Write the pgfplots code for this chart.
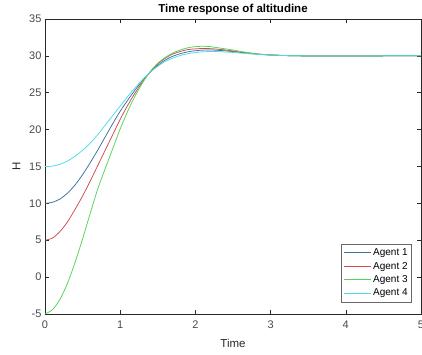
\documentclass[border=0pt]{standalone}
\usepackage{pgfplots}
\pgfplotsset{compat=1.18}
\usepackage{fontspec}
\setmainfont{Liberation Sans}
\definecolor{cA}{RGB}{60,110,160}
\definecolor{cB}{RGB}{205,75,75}
\definecolor{cC}{RGB}{85,210,85}
\definecolor{cD}{RGB}{75,220,230}
\definecolor{axgray}{RGB}{40,40,40}
\pgfplotstableread{
t A1 A2 A3 A4
0.0 10.0 5.0 -5.0 15.0
0.1 10.15 5.3 -4.4 15.05
0.2 10.6 6.2 -3.0 15.3
0.3 11.4 7.5 -0.8 15.75
0.4 12.5 9.2 2.0 16.4
0.5 13.9 11.0 5.2 17.2
0.6 15.5 13.0 8.6 18.15
0.7 17.2 15.1 11.9 19.3
0.8 19.0 17.2 14.7 20.6
0.9 20.8 19.3 17.4 21.9
1.0 22.5 21.4 20.1 23.2
1.1 24.0 23.3 22.5 24.5
1.2 25.4 25.0 24.6 25.7
1.3 26.7 26.5 26.4 26.8
1.4 27.8 27.8 27.9 27.8
1.5 28.7 28.9 29.0 28.6
1.6 29.45 29.7 29.8 29.25
1.7 29.95 30.25 30.4 29.7
1.8 30.3 30.6 30.8 30.05
1.9 30.55 30.85 31.1 30.3
2.0 30.7 30.95 31.25 30.45
2.1 30.78 31.0 31.3 30.55
2.2 30.8 30.98 31.25 30.6
2.3 30.75 30.9 31.1 30.58
2.4 30.68 30.8 30.95 30.53
2.5 30.58 30.65 30.8 30.46
2.6 30.47 30.5 30.6 30.38
2.7 30.37 30.38 30.45 30.3
2.8 30.27 30.27 30.3 30.22
2.9 30.19 30.18 30.2 30.16
3.0 30.12 30.12 30.15 30.1
3.2 30.04 30.04 30.05 30.04
3.4 30.0 30.0 30.0 30.0
3.6 29.98 29.98 29.97 29.98
3.8 29.98 29.98 29.97 29.98
4.0 29.98 29.98 29.98 29.99
4.5 30.0 30.0 30.0 30.0
5.0 30.0 30.0 30.0 30.0
}\data
\begin{document}
\begin{tikzpicture}
\begin{axis}[
  name=ax,
  scale only axis,
  width=376pt, height=295pt,
  xmin=0, xmax=5, ymin=-5, ymax=35,
  xtick={0,1,2,3,4,5}, ytick={-5,0,5,10,15,20,25,30,35},
  tick align=inside,
  major tick length=4pt,
  axis line style={axgray, line width=0.6pt},
  tick style={axgray, line width=0.6pt},
  ticklabel style={font=\fontsize{11}{13}\selectfont, text=axgray!85},
  xticklabel style={yshift=-3pt},
  /pgf/number format/assume math mode=true,
  title={\textbf{Time response of altitudine}},
  title style={font=\fontsize{11.5}{13}\selectfont, yshift=-5pt},
  xlabel={Time}, ylabel={H},
  label style={font=\fontsize{11.5}{13}\selectfont, text=axgray},
  xlabel style={yshift=-4pt},
  ylabel style={yshift=2pt},
  legend style={at={(rel axis cs:0.976,0.04)}, anchor=south east,
    font=\fontsize{10}{12}\selectfont, draw=axgray!70, line width=0.6pt,
    row sep=1pt, inner xsep=2pt, inner ysep=2.5pt},
  legend cell align=left,
  every axis plot/.append style={line width=0.75pt},
  legend image code/.code={\draw[#1, line width=0.8pt] (0cm,0cm) -- (0.95cm,0cm);},
]
\addplot[cA, smooth] table[x=t, y=A1] {\data};
\addlegendentry{Agent 1}
\addplot[cB, smooth] table[x=t, y=A2] {\data};
\addlegendentry{Agent 2}
\addplot[cC, smooth] table[x=t, y=A3] {\data};
\addlegendentry{Agent 3}
\addplot[cD, smooth] table[x=t, y=A4] {\data};
\addlegendentry{Agent 4}
\end{axis}
\pgfresetboundingbox
\path[use as bounding box] ([xshift=-45pt,yshift=-41pt]ax.south west) rectangle ([xshift=1pt,yshift=19pt]ax.north east);
\end{tikzpicture}
\end{document}
